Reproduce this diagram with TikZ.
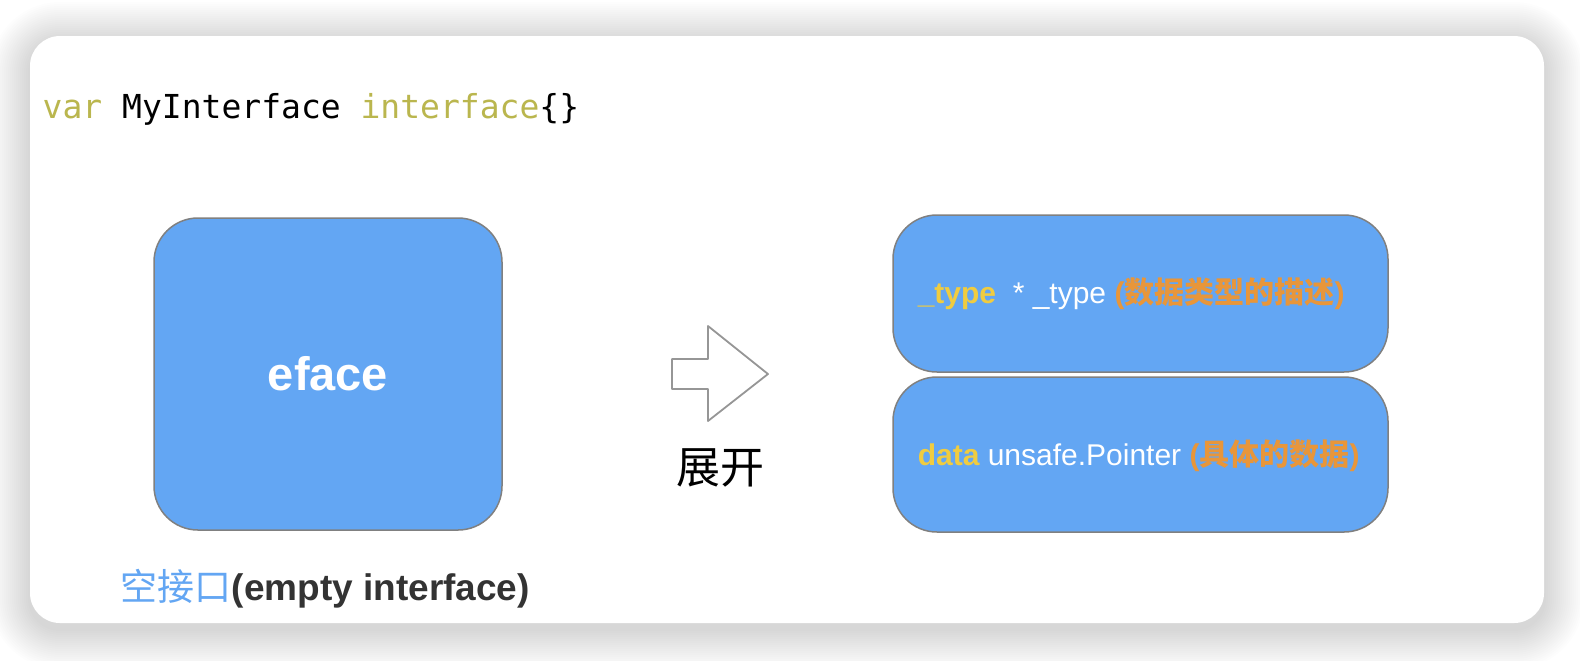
\documentclass[tikz,border=0pt]{standalone}
\usepackage{fontspec}
\setmainfont{Liberation Sans}
\setmonofont{DejaVu Sans Mono}
\newfontfamily\cjk{Noto Sans CJK SC}
\definecolor{codekw}{RGB}{186,182,78}
\definecolor{boxblau}{RGB}{99,166,243}
\definecolor{boxrand}{RGB}{128,128,128}
\definecolor{pfeilgrau}{RGB}{150,150,150}
\definecolor{gelb}{RGB}{240,204,64}
\definecolor{orangeT}{RGB}{232,150,58}
\definecolor{dunkel}{RGB}{51,51,51}
\tikzset{
  blob/.style={draw=boxrand, fill=boxblau, line width=0.75pt, rounded corners=22pt, inner sep=0pt},
  feldtext/.style={anchor=base west, inner sep=0pt, text=white, font=\fontsize{15}{18}\selectfont}
}
\begin{document}
\begin{tikzpicture}[x=0.5pt, y=-0.5pt, line width=0.75pt, line join=round]
  \useasboundingbox (0,0) rectangle (1580,660);
  % Schatten und Karte
  \foreach \s [evaluate=\s as \r using 15+\s] in {1,...,20}
    \fill[black, fill opacity=0.007, rounded corners=\r pt]
      (30-2*\s,36-2*\s+6) rectangle (1544+2*\s,623+2*\s+6);
  \fill[white, rounded corners=15pt] (30,36) rectangle (1544,623);
  % Deklaration
  \node[anchor=base west, inner sep=0pt, font=\ttfamily\fontsize{16.5}{20}\selectfont] (code) at (42,118)
    {\textcolor{codekw}{var} MyInterface \textcolor{codekw}{interface}\{\}};
  % eface links
  \node[blob, minimum width=174pt, minimum height=156pt, text=white,
    font=\bfseries\fontsize{23.5}{28}\selectfont] (eface) at (328,374) {eface};
  \node[anchor=base west, inner sep=0pt, font=\bfseries\fontsize{18.5}{22}\selectfont] (leer) at (120,600)
    {\textcolor{boxblau}{\cjk\mdseries 空接口}\textcolor{dunkel}{(empty interface)}};
  % Pfeil mit Beschriftung
  \draw[draw=pfeilgrau, fill=white, line width=0.9pt] (672,359) -- (708,359) -- (708,326)
    -- (768,374) -- (708,421) -- (708,389) -- (672,389) -- cycle;
  \node[anchor=base, inner sep=0pt, font=\cjk\fontsize{22}{26}\selectfont] (zhankai) at (720,483) {展开};
  % Felder rechts
  \node[blob, minimum width=247.5pt, minimum height=78.5pt] (typebox) at (1140.5,293.5) {};
  \node[blob, minimum width=247.5pt, minimum height=77.5pt] (databox) at (1140.5,454.5) {};
  \node[feldtext] (typetext) at (917,303)
    {\textcolor{gelb}{\bfseries\_type}\ \ * \_type \textcolor{orangeT}{\bfseries({\cjk 数据类型的描述})}};
  \node[feldtext] (datatext) at (917,465)
    {\textcolor{gelb}{\bfseries data} unsafe.Pointer \textcolor{orangeT}{\bfseries({\cjk 具体的数据})}};
\end{tikzpicture}
\end{document}
